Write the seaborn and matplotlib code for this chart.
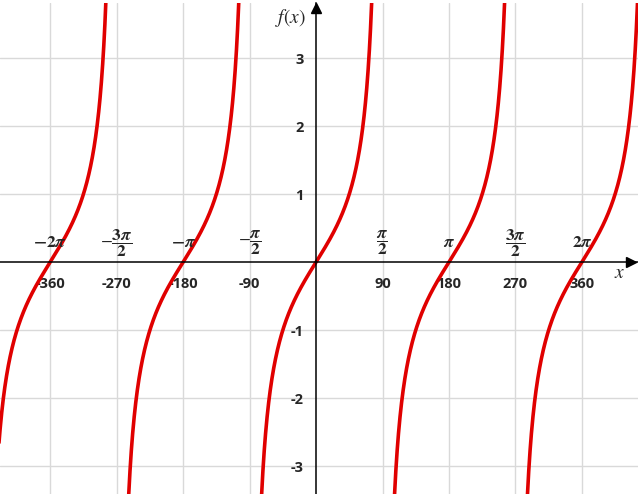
import numpy as np
import pandas as pd
import matplotlib
matplotlib.use('Agg')
import matplotlib.pyplot as plt
import seaborn as sns

# f(x) = tan(x), x in degrees; one branch per period centre
branch_centers = [-540, -360, -180, 0, 180, 360]
xtick_values = [-360, -270, -180, -90, 90, 180, 270, 360]
xtick_labels = ['-360', '-270', '-180', '-90', '90', '180', '270', '360']
pi_values = [-360, -270, -180, -90, 90, 180, 270, 360]
pi_labels = [r'$\boldsymbol{-2\pi}$', r'$-\dfrac{\boldsymbol{3\pi}}{\mathbf{2}}$',
             r'$\boldsymbol{-\pi}$', r'$-\dfrac{\boldsymbol{\pi}}{\mathbf{2}}$',
             r'$\dfrac{\boldsymbol{\pi}}{\mathbf{2}}$', r'$\boldsymbol{\pi}$',
             r'$\dfrac{\boldsymbol{3\pi}}{\mathbf{2}}$', r'$\boldsymbol{2\pi}$']
ytick_values = [-3, -2, -1, 1, 2, 3]

sns.set_theme(style='whitegrid')
plt.rcParams['font.family'] = ['Open Sans', 'DejaVu Sans']
plt.rcParams['mathtext.fontset'] = 'stix'

fig = plt.figure(figsize=(6.38, 4.94), dpi=100)
ax = fig.add_axes([0, 0, 1, 491 / 494])

frames = []
for c in branch_centers:
    xs = np.linspace(c - 89.6, c + 89.6, 600)
    frames.append(pd.DataFrame({'x': xs, 'y': np.tan(np.radians(xs)), 'branch': c}))
df = pd.concat(frames)
for c, part in df.groupby('branch'):
    sns.lineplot(data=part, x='x', y='y', color='#e00000', linewidth=2.6,
                 ax=ax, sort=False, estimator=None)

ax.set_xlim(-428, 436)
ax.set_ylim(-3.41, 3.81)

for s in ['top', 'right']:
    ax.spines[s].set_visible(False)
ax.spines['left'].set_position(('data', 0))
ax.spines['bottom'].set_position(('data', 0))
for s in ['left', 'bottom']:
    ax.spines[s].set_color('black')
    ax.spines[s].set_linewidth(1.1)

ax.set_xticks(xtick_values)
ax.set_xticklabels(xtick_labels, fontsize=10.5, fontweight='bold')
ax.set_yticks(ytick_values)
ax.set_yticklabels([str(v) for v in ytick_values], fontsize=10.5, fontweight='bold')
ax.tick_params(axis='x', direction='out', length=4, width=1, color='black', pad=7)
ax.tick_params(axis='y', direction='out', length=5, width=1, color='black', pad=4)
ax.grid(True, color='#d9d9d9', linewidth=1)
ax.set_xlabel('')
ax.set_ylabel('')

for v, lab in zip(pi_values, pi_labels):
    ax.text(v, 0.28, lab, ha='center', va='center', fontsize=12.5)

# arrow heads on axes
ax.plot(427, 0, marker='>', color='black', markersize=7, clip_on=False)
ax.plot(0, 3.74, marker='^', color='black', markersize=7, clip_on=False)

ax.text(-34, 3.59, r'$f(x)$', ha='center', va='center', fontsize=14)
ax.text(411, -0.16, r'$x$', ha='center', va='center', fontsize=14)

fig.savefig('out.png', dpi=100)
